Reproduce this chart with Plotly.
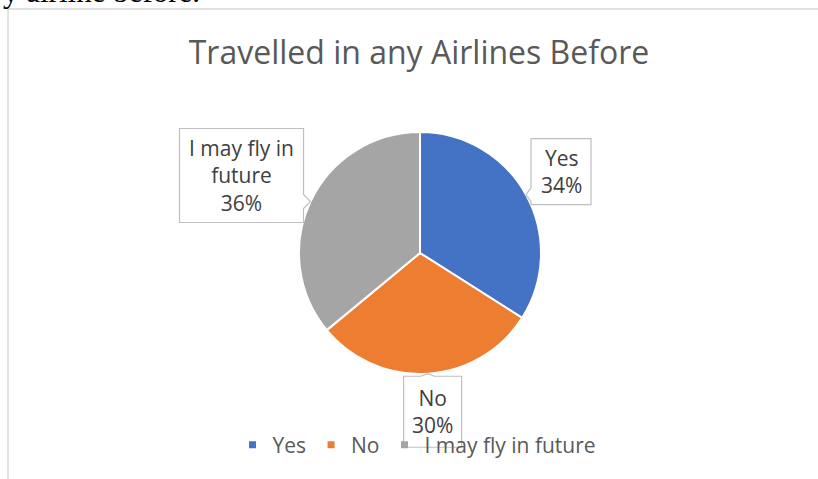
import textwrap
import numpy as np
import plotly.graph_objects as go

W, H = 818, 479

# ---- data ----
categories = ["Yes", "No", "I may fly in future"]
values = [34, 30, 36]
colors = ["#4472C4", "#ED7D31", "#A5A5A5"]
title_text = "Travelled in any Airlines Before"
heading_tail = "y airline before."

# ---- geometry (pixels) ----
cx, cy, r = 420, 253, 121

# callout box: centre offset from the slice's mid-arc point, box size
callouts = {
    "Yes": dict(dx=35, dy=-23, w=60, h=66),
    "No": dict(dx=5, dy=38, w=58, h=71),
    "I may fly in future": dict(dx=-69, dy=-26, w=124, h=94),
}


def px(x):
    return x / W


def py(y):
    return 1 - y / H


fig = go.Figure()

fig.add_trace(go.Pie(
    labels=categories, values=values, sort=False,
    direction="clockwise", rotation=0,
    marker=dict(colors=colors, line=dict(color="white", width=2)),
    textinfo="none", hoverinfo="label+percent", showlegend=False,
    domain=dict(x=[px(cx - r), px(cx + r)], y=[py(cy + r), py(cy - r)]),
))

# legend entries with small square swatches
for cat, col in zip(categories, colors):
    fig.add_trace(go.Scatter(
        x=[None], y=[None], mode="markers", name=cat,
        marker=dict(symbol="square", size=7, color=col),
        showlegend=True,
    ))

total = float(sum(values))
shapes = []
annotations = []
start = 0.0
notch = 7
for cat, v in zip(categories, values):
    mid = (start + v / 2) / total * 2 * np.pi
    start += v
    tx = cx + r * np.sin(mid)
    ty = cy - r * np.cos(mid)
    c = callouts[cat]
    bx, by = tx + c["dx"], ty + c["dy"]
    x0, x1 = bx - c["w"] / 2, bx + c["w"] / 2
    y0, y1 = by - c["h"] / 2, by + c["h"] / 2

    pts = [(x0, y0)]
    # top edge (left -> right)
    if ty < y0:
        m = min(max(tx, x0 + notch + 2), x1 - notch - 2)
        pts += [(m - notch, y0), (tx, ty), (m + notch, y0)]
    pts.append((x1, y0))
    # right edge (top -> bottom)
    if tx > x1:
        m = min(max(ty, y0 + notch + 2), y1 - notch - 2)
        pts += [(x1, m - notch), (tx, ty), (x1, m + notch)]
    pts.append((x1, y1))
    # bottom edge (right -> left)
    if ty > y1:
        m = min(max(tx, x0 + notch + 2), x1 - notch - 2)
        pts += [(m + notch, y1), (tx, ty), (m - notch, y1)]
    pts.append((x0, y1))
    # left edge (bottom -> top)
    if tx < x0:
        m = min(max(ty, y0 + notch + 2), y1 - notch - 2)
        pts += [(x0, m + notch), (tx, ty), (x0, m - notch)]

    path = "M " + " L ".join(f"{px(a):.5f},{py(b):.5f}" for a, b in pts) + " Z"
    shapes.append(dict(
        type="path", xref="paper", yref="paper", path=path,
        fillcolor="white", line=dict(color="#BFBFBF", width=1.2), layer="above",
    ))

    label = "<br>".join(textwrap.wrap(cat, 12))
    pct = round(v / total * 100)
    annotations.append(dict(
        x=px(bx), y=py(by), xref="paper", yref="paper",
        text=f"{label}<br>{pct}%", showarrow=False, align="center",
        xanchor="center", yanchor="middle",
        font=dict(family="Open Sans", size=21, color="#404040"),
    ))

# chart-area frame (left and top edges)
shapes.append(dict(
    type="path", xref="paper", yref="paper",
    path=f"M {px(8)},{py(W)} L {px(8)},{py(9)} L {px(W + 5)},{py(9)}",
    line=dict(color="#D9D9D9", width=1.5), layer="below",
))

# tail of the document line above the chart
annotations.append(dict(
    x=px(1), y=py(11), xref="paper", yref="paper",
    text=heading_tail, showarrow=False, xanchor="left", yanchor="bottom",
    font=dict(family="Liberation Serif", size=31, color="black"),
))

fig.update_layout(
    width=W, height=H,
    margin=dict(l=0, r=0, t=0, b=0),
    paper_bgcolor="white", plot_bgcolor="white",
    title=dict(
        text=title_text, x=px(419), xanchor="center",
        y=py(53), yanchor="middle", xref="paper", yref="paper",
        font=dict(family="Open Sans", size=32, color="#595959"),
    ),
    xaxis=dict(visible=False), yaxis=dict(visible=False),
    legend=dict(
        orientation="h", x=px(417), xanchor="center",
        y=py(445), yanchor="middle",
        font=dict(family="Open Sans", size=21, color="#595959"),
        bgcolor="rgba(0,0,0,0)", itemwidth=30,
    ),
    shapes=shapes,
    annotations=annotations,
)

fig.write_html("out.html")
